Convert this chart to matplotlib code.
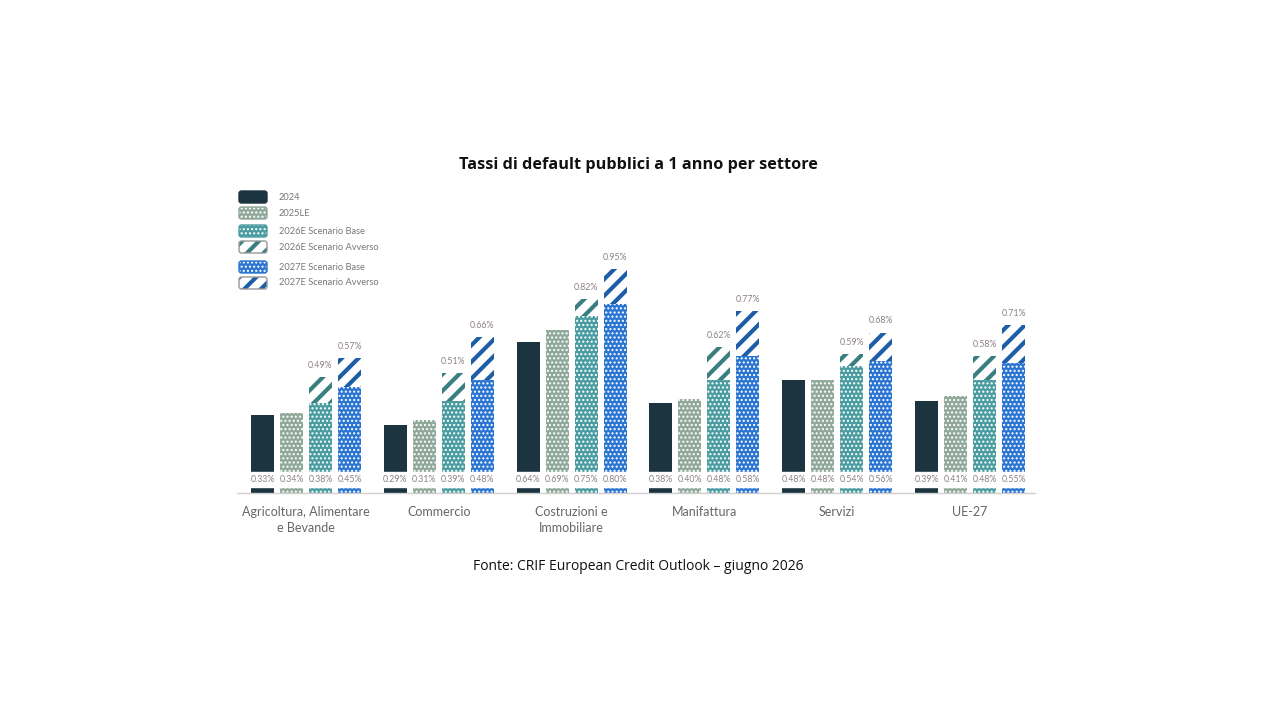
import matplotlib
matplotlib.use('Agg')
import matplotlib.pyplot as plt
from matplotlib.patches import FancyBboxPatch
from matplotlib.transforms import IdentityTransform
import numpy as np

plt.rcParams['font.family'] = ['Lato', 'DejaVu Sans']

# Dati (%)
settori = ['Agricoltura, Alimentare\ne Bevande', 'Commercio', 'Costruzioni e\nImmobiliare',
           'Manifattura', 'Servizi', 'UE-27']
v2024 = [0.33, 0.29, 0.64, 0.38, 0.48, 0.39]
v2025le = [0.34, 0.31, 0.69, 0.40, 0.48, 0.41]
v2026_base = [0.38, 0.39, 0.75, 0.48, 0.54, 0.48]
v2026_avv = [0.49, 0.51, 0.82, 0.62, 0.59, 0.58]
v2027_base = [0.45, 0.48, 0.80, 0.58, 0.56, 0.55]
v2027_avv = [0.57, 0.66, 0.95, 0.77, 0.68, 0.71]
serie_nomi = ['2024', '2025LE', '2026E Scenario Base', '2026E Scenario Avverso',
              '2027E Scenario Base', '2027E Scenario Avverso']

c_navy = '#1b3440'
c_sage = '#8fa89a'
c_teal = '#4a9ca0'
c_teal_dk = '#3a7f80'
c_blue = '#2a74d2'
c_blue_dk = '#1d5ea6'
c_lab = '#8c7f82'

W, H = 1280, 720
fig = plt.figure(figsize=(12.8, 7.2), dpi=100)
# axes: x 237..1035 px, y 0 at 493 px, 1% at 257 px
ax = fig.add_axes([237 / W, (720 - 493) / H, (1035 - 237) / W, (493 - 257) / H])

x = np.arange(len(settori))
step = 29 / 132.8
bw = 23 / 132.8
offs = np.array([-1.5, -0.5, 0.5, 1.5]) * step

# stili: (colore, colore tratteggio, tratteggio, spessore)
stili = [
    (c_navy, c_navy, None, 1.0),
    (c_sage, 'white', '....', 1.0),
    (c_teal, 'white', '....', 1.0),
    ('white', c_teal_dk, '//', 3.0),
    (c_blue, 'white', '....', 1.0),
    ('white', c_blue_dk, '//', 3.0),
]


def barre(xpos, alt, base, st, nome):
    fc, hc, hatch, hlw = st
    plt.rcParams['hatch.linewidth'] = hlw
    return ax.bar(xpos, alt, bw, bottom=base, color=fc, edgecolor=hc, hatch=hatch,
                  linewidth=0, label=nome, zorder=2)


barre(x + offs[0], v2024, 0, stili[0], serie_nomi[0])
barre(x + offs[1], v2025le, 0, stili[1], serie_nomi[1])
barre(x + offs[2], v2026_base, 0, stili[2], serie_nomi[2])
barre(x + offs[3], v2027_base, 0, stili[4], serie_nomi[4])
barre(x + offs[2], np.array(v2026_avv) - np.array(v2026_base), v2026_base, stili[3], serie_nomi[3])
barre(x + offs[3], np.array(v2027_avv) - np.array(v2027_base), v2027_base, stili[5], serie_nomi[5])

# banda bianca con le etichette alla base
ax.axhspan(0.025, 0.089, color='white', zorder=3)
for j, serie in enumerate([v2024, v2025le, v2026_base, v2027_base]):
    for i, v in enumerate(serie):
        ax.text(x[i] + offs[j], 0.058, f'{v:.2f}%', ha='center', va='center',
                fontsize=6.3, color=c_lab, zorder=4)
for serie, col in [(v2026_avv, 2), (v2027_avv, 3)]:
    for i, v in enumerate(serie):
        ax.text(x[i] + offs[col], v + 0.03, f'{v:.2f}%', ha='center', va='bottom',
                fontsize=6.3, color=c_lab, zorder=4)

ax.set_xlim(-(306 - 237) / 132.8, (1035 - 306) / 132.8)
ax.set_ylim(0, 1)
ax.set_yticks([])
ax.set_xticks(x)
ax.set_xticklabels(settori, fontsize=9, color='#666666', linespacing=1.5)
ax.tick_params(axis='x', length=0, pad=9)
for s in ['top', 'right', 'left']:
    ax.spines[s].set_visible(False)
ax.spines['bottom'].set_color('#d0d0d0')
ax.spines['bottom'].set_linewidth(1)

# legenda disegnata a mano (pixel)
leg_y = [197, 213, 231, 247, 267, 283]
for nome, st, yy in zip(serie_nomi, stili, leg_y):
    fc, hc, hatch, hlw = st
    plt.rcParams['hatch.linewidth'] = hlw
    y0 = H - yy - 6
    p = FancyBboxPatch((239, y0), 28, 12, boxstyle='round,pad=0,rounding_size=2.5',
                       transform=IdentityTransform(), facecolor=fc, edgecolor=hc,
                       hatch=hatch, linewidth=0)
    fig.patches.append(p)
    bordo = '#999999' if fc == 'white' else fc
    q = FancyBboxPatch((239, y0), 28, 12, boxstyle='round,pad=0,rounding_size=2.5',
                       transform=IdentityTransform(), facecolor='none', edgecolor=bordo,
                       linewidth=1.0)
    fig.patches.append(q)
    fig.text(279 / W, 1 - yy / H, nome, ha='left', va='center', fontsize=6.7,
             color='#777777')

fig.text(638 / W, 1 - 165 / H, 'Tassi di default pubblici a 1 anno per settore',
         ha='center', va='center', fontsize=11.7, fontweight='bold',
         family=['Open Sans', 'DejaVu Sans'], color='#111111')
fig.text(638 / W, 1 - 567 / H, 'Fonte: CRIF European Credit Outlook – giugno 2026',
         ha='center', va='center', fontsize=10, family=['Open Sans', 'DejaVu Sans'],
         color='#111111')

fig.savefig('out.png', dpi=100, facecolor='white')
